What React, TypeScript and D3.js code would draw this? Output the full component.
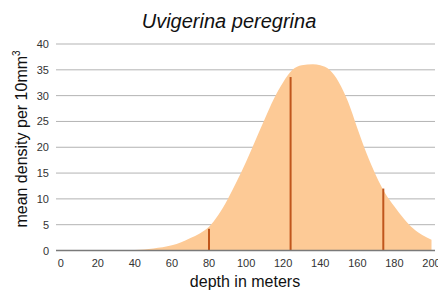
import React, { useEffect, useRef } from "react";
import * as d3 from "d3";

// density curve (depth m, mean density)
const curveDepths = [30, 40, 50, 60, 65, 70, 75, 80, 85, 90, 95, 100, 105, 110, 115, 120, 125, 130, 136, 140, 145, 150, 155, 160, 165, 170, 175, 180, 185, 190, 195, 200];
const curveValues = [0, 0.1, 0.4, 1.0, 1.6, 2.4, 3.3, 4.6, 6.9, 9.9, 13.4, 17.2, 21.3, 25.4, 29.4, 32.6, 35.0, 35.9, 36.1, 35.9, 35.0, 32.6, 28.8, 23.7, 18.8, 14.6, 11.1, 8.5, 6.2, 4.3, 3.0, 2.1];

// sampled stations
const sampleDepths = [80, 124, 174];
const sampleValues = [4.2, 33.6, 12.0];

const xTicks = [0, 20, 40, 60, 80, 100, 120, 140, 160, 180, 200];
const yTicks = [0, 5, 10, 15, 20, 25, 30, 35, 40];

const W = 438;
const H = 291;

const App = () => {
  const ref = useRef<SVGSVGElement>(null);

  useEffect(() => {
    const svg = d3.select(ref.current);
    svg.selectAll("*").remove();

    const x = d3.scaleLinear().domain([0, 200]).range([60.7, 431.5]);
    const y = d3.scaleLinear().domain([0, 40]).range([250.5, 44]);
    const font = "Liberation Sans, Arial, sans-serif";

    // grid
    svg
      .append("g")
      .selectAll("line")
      .data(yTicks.filter((d) => d > 0))
      .join("line")
      .attr("x1", 56)
      .attr("x2", 435)
      .attr("y1", (d) => y(d))
      .attr("y2", (d) => y(d))
      .attr("stroke", "#b3b3b3")
      .attr("stroke-width", 1);

    const pts = curveDepths.map((d, i) => [d, curveValues[i]] as [number, number]);
    const area = d3
      .area<[number, number]>()
      .x((d) => x(d[0]))
      .y0(y(0))
      .y1((d) => y(d[1]))
      .curve(d3.curveMonotoneX);

    svg.append("path").datum(pts).attr("d", area).attr("fill", "#fdca96");

    // sample lines
    svg
      .append("g")
      .selectAll("line")
      .data(sampleDepths)
      .join("line")
      .attr("x1", (d) => x(d))
      .attr("x2", (d) => x(d))
      .attr("y1", y(0))
      .attr("y2", (d, i) => y(sampleValues[i]))
      .attr("stroke", "#c0561c")
      .attr("stroke-width", 2);

    // baseline
    svg
      .append("line")
      .attr("x1", 56)
      .attr("x2", 435)
      .attr("y1", y(0))
      .attr("y2", y(0))
      .attr("stroke", "#7a7a7a")
      .attr("stroke-width", 1.5);

    // tick labels
    svg
      .append("g")
      .selectAll("text")
      .data(yTicks)
      .join("text")
      .attr("x", 49)
      .attr("y", (d) => y(d) + 4)
      .attr("text-anchor", "end")
      .attr("font-family", font)
      .attr("font-size", 11)
      .attr("fill", "#333")
      .text((d) => d);

    svg
      .append("g")
      .selectAll("text")
      .data(xTicks)
      .join("text")
      .attr("x", (d) => x(d))
      .attr("y", 267)
      .attr("text-anchor", "middle")
      .attr("font-family", font)
      .attr("font-size", 11)
      .attr("fill", "#333")
      .text((d) => d);

    // titles
    svg
      .append("text")
      .attr("x", 229)
      .attr("y", 28)
      .attr("text-anchor", "middle")
      .attr("font-family", font)
      .attr("font-size", 20)
      .attr("font-style", "italic")
      .attr("fill", "#111")
      .text("Uvigerina peregrina");

    svg
      .append("text")
      .attr("x", 245)
      .attr("y", 287)
      .attr("text-anchor", "middle")
      .attr("font-family", font)
      .attr("font-size", 16)
      .attr("fill", "#111")
      .text("depth in meters");

    const yl = svg
      .append("text")
      .attr("transform", "translate(27,139) rotate(-90)")
      .attr("text-anchor", "middle")
      .attr("font-family", font)
      .attr("font-size", 16)
      .attr("fill", "#111");
    yl.append("tspan").text("mean density per 10mm");
    yl.append("tspan").attr("font-size", 10).attr("dy", -7).text("3");
  }, []);

  return (
    <svg
      ref={ref}
      width={W}
      height={H}
      style={{ position: "absolute", left: 0, top: 0, background: "#fff" }}
    />
  );
};

export default App;
